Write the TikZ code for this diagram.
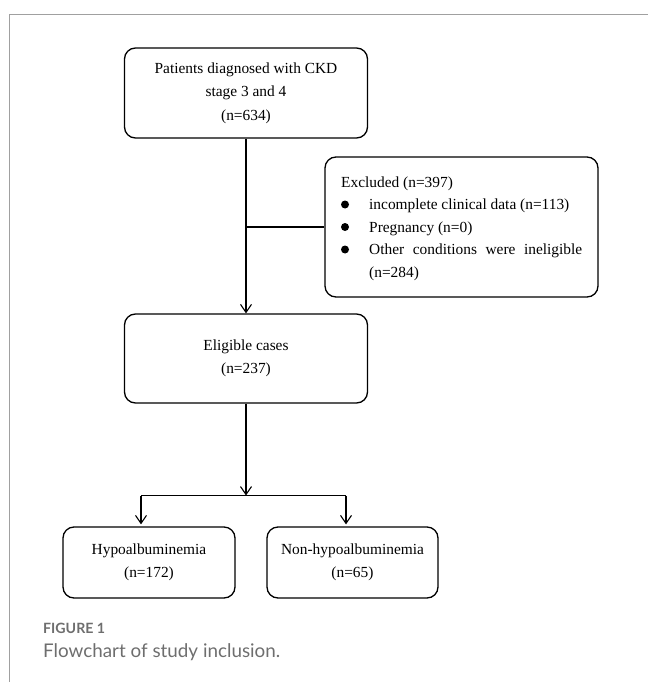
\documentclass[tikz,border=0pt]{standalone}
\usepackage{fontspec}
\setmainfont{Liberation Serif}
\newfontfamily\capfont{Lato}
\usetikzlibrary{arrows.meta}
\definecolor{framegray}{HTML}{A0A0A0}
\definecolor{capgray}{HTML}{6E6E6E}
\begin{document}
\begin{tikzpicture}[x=1pt,y=-1pt,
  box/.style={draw, line width=1.3pt, rounded corners=11pt, align=center,
    font=\fontsize{15.4}{23.5}\selectfont, inner sep=0pt},
  txt/.style={font=\fontsize{15.4}{23.5}\selectfont, inner sep=0pt, anchor=base west},
  bul/.style={circle, fill, inner sep=0pt, minimum size=8pt},
  conn/.style={line width=1.1pt},
  arr/.style={conn, -{Straight Barb[length=8pt,width=11pt,line width=1.1pt]}},
  captxt/.style={inner sep=0pt, anchor=base west, text=capgray}
]
\useasboundingbox (0,0) rectangle (648,682);
\draw[framegray, line width=1.5pt] (648,14.5) -- (9.5,14.5) -- (9.5,682);

\node[box, minimum width=243pt, minimum height=90pt] (pat) at (246,93)
  {Patients diagnosed with CKD\\stage 3 and 4\\(n=634)};
\node[box, minimum width=273pt, minimum height=140pt] (excl) at (461.5,227) {};
\node[txt] (ex0) at (341,187) {Excluded (n=397)};
\node[bul] (b1) at (345,204.5) {};
\node[txt] (ex1) at (369,209.5) {incomplete clinical data (n=113)};
\node[bul] (b2) at (345,227) {};
\node[txt] (ex2) at (369,232) {Pregnancy (n=0)};
\node[bul] (b3) at (345,249.5) {};
\node[txt] (ex3) at (369,254.5) {\makebox[213pt][s]{Other conditions were ineligible}};
\node[txt] (ex4) at (369,277) {(n=284)};

\node[box, minimum width=243pt, minimum height=89pt] (elig) at (246,358.5)
  {Eligible cases\\(n=237)};
\node[box, minimum width=172pt, minimum height=71pt] (hypo) at (149,562.5)
  {Hypoalbuminemia\\(n=172)};
\node[box, minimum width=171pt, minimum height=71pt] (non) at (352.5,562.5)
  {Non-hypoalbuminemia\\(n=65)};

\draw[arr] (pat) -- (elig);
\coordinate (j1) at (246,227);
\draw[conn] (j1) -- (excl.west);
\coordinate (j2) at (246,495.5);
\draw[arr] (elig) -- (j2);
\coordinate (bl) at (141,495.5);
\coordinate (br) at (346,495.5);
\draw[conn] (bl) -- (br);
\draw[arr, shorten >=2pt] (bl) -- (bl |- hypo.north);
\draw[arr, shorten >=2pt] (br) -- (br |- non.north);

\node[captxt] (figlab) at (43,633) {\resizebox{62pt}{!}{\capfont\bfseries FIGURE 1}};
\node[captxt] (figcap) at (43,657) {\resizebox{237pt}{!}{\capfont Flowchart of study inclusion.}};
\end{tikzpicture}
\end{document}
